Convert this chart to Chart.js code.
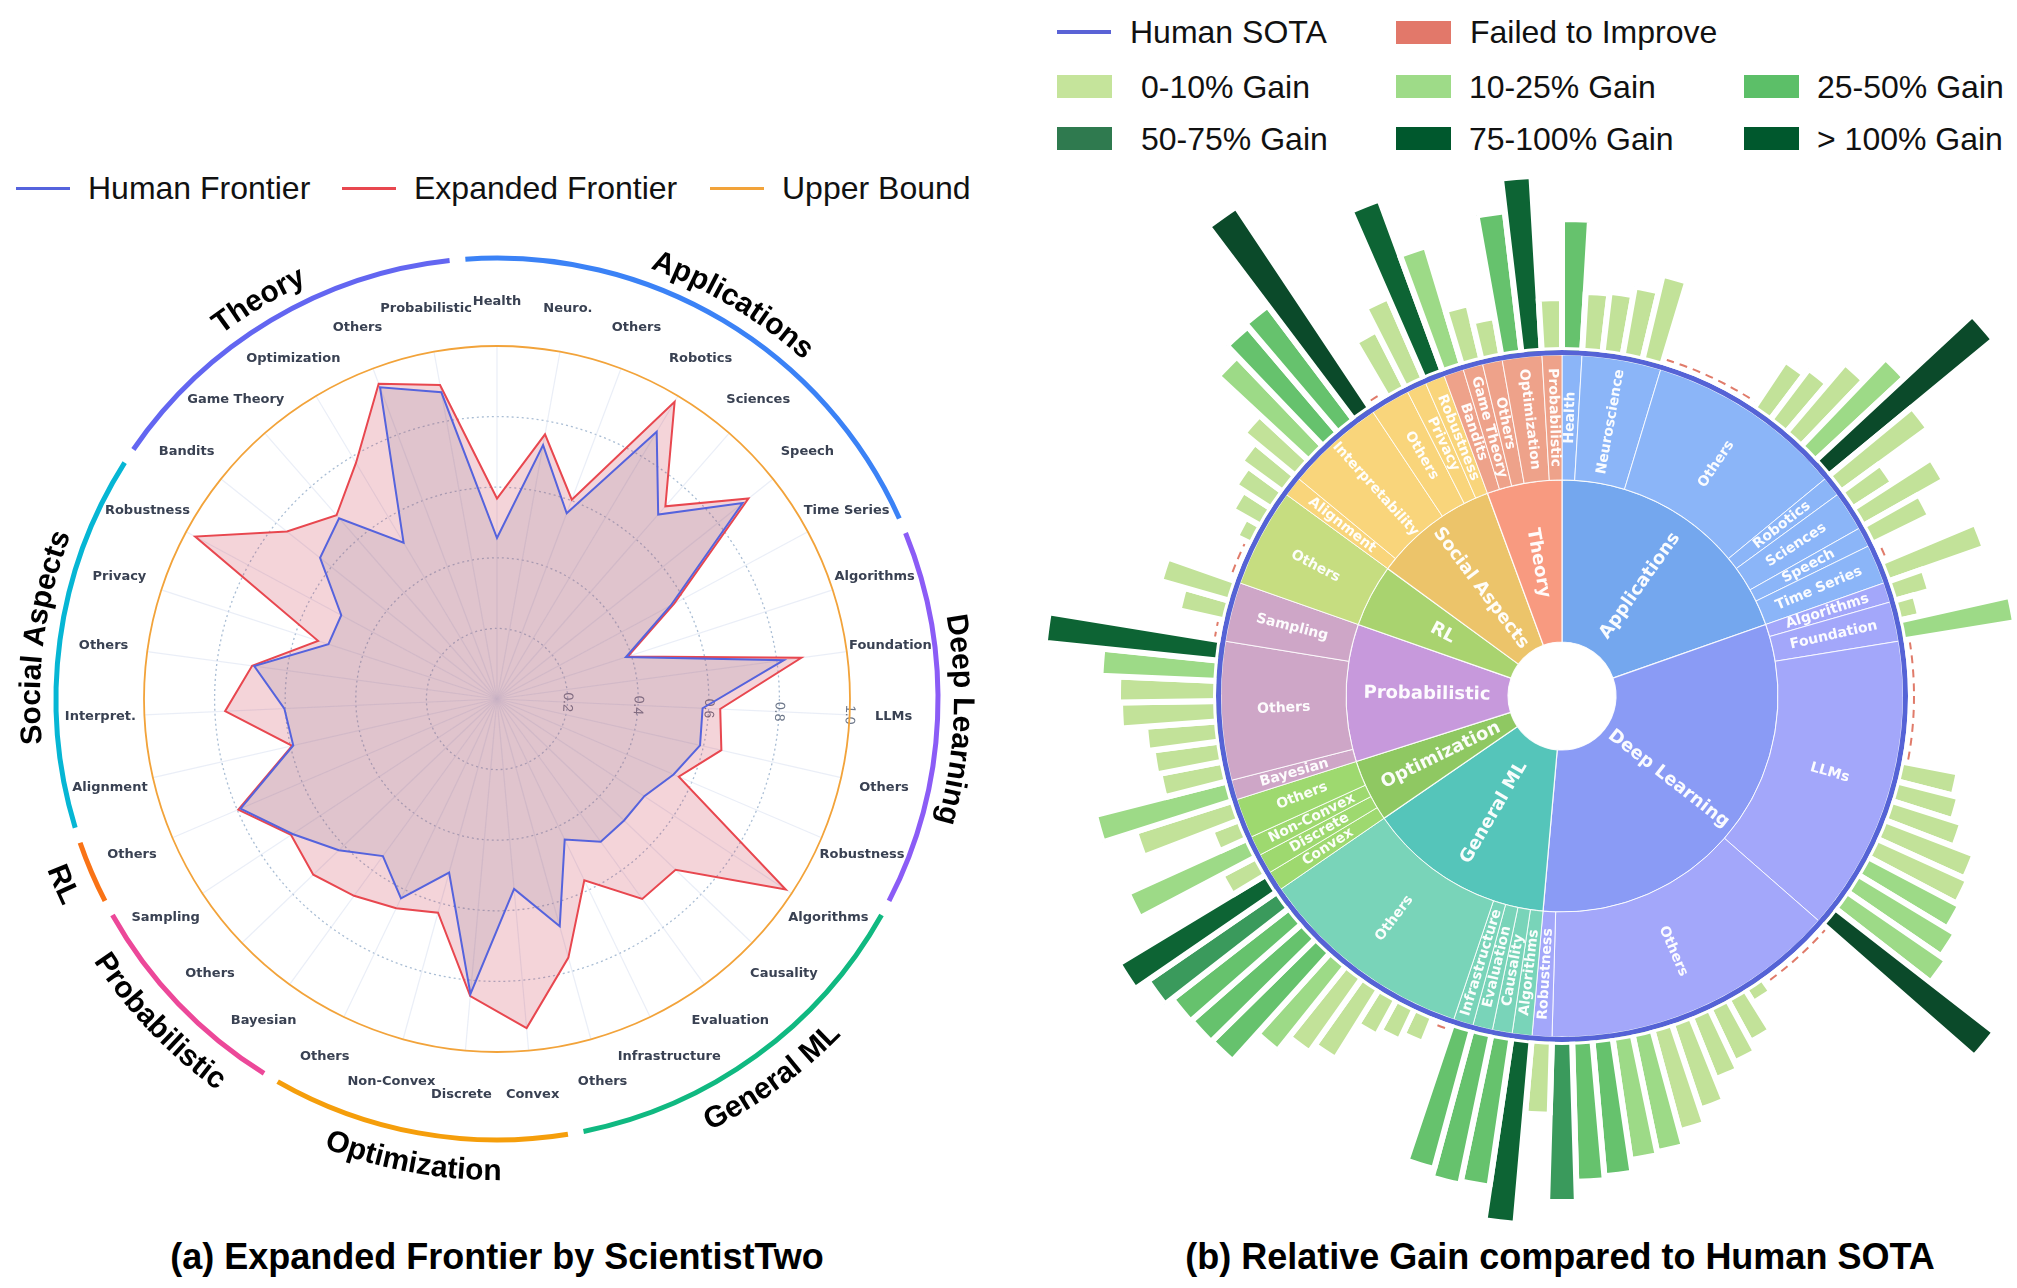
<!DOCTYPE html>
<html>
<head>
<meta charset="utf-8">
<script src="https://cdn.jsdelivr.net/npm/chart.js@4.4.1/dist/chart.umd.min.js"></script>
<style>
  html, body { margin: 0; padding: 0; background: #fff; }
  body { width: 2017px; height: 1288px; position: relative; overflow: hidden; font-family: "Liberation Sans", Arial, sans-serif; }
  canvas { position: absolute; }
  .leg { position: absolute; font-size: 32px; line-height: 36px; color: #111; white-space: nowrap; }
  .ln { position: absolute; height: 3px; width: 54px; }
  .sw { position: absolute; height: 23px; width: 55px; }
  .title { position: absolute; font-weight: bold; font-size: 36px; line-height: 40px; white-space: nowrap; transform: translateX(-50%); color: #000; }
</style>
</head>
<body>

<!-- left legend -->
<div class="ln" style="left:16px;top:187px;background:#5563dd"></div>
<div class="leg" style="left:88px;top:170px">Human Frontier</div>
<div class="ln" style="left:342px;top:187px;background:#e8474f"></div>
<div class="leg" style="left:414px;top:170px">Expanded Frontier</div>
<div class="ln" style="left:710px;top:187px;background:#f2a33a"></div>
<div class="leg" style="left:782px;top:170px">Upper Bound</div>

<!-- right legend -->
<div class="ln" style="left:1057px;top:30px;height:4px;background:#5a63d6"></div>
<div class="leg" style="left:1130px;top:14px">Human SOTA</div>
<div class="sw" style="left:1396px;top:21px;background:#e2786a"></div>
<div class="leg" style="left:1470px;top:14px">Failed to Improve</div>
<div id="binLegend"></div>

<canvas id="ring" width="1000" height="1000" style="left:-3px;top:199px;z-index:1"></canvas>
<canvas id="radar" width="1001" height="1001" style="left:-3px;top:199px;z-index:2"></canvas>
<canvas id="bars" width="1200" height="1200" style="left:962px;top:96px;z-index:1"></canvas>
<canvas id="sun" width="720" height="720" style="left:1202px;top:336px;z-index:2"></canvas>

<div class="title" style="left:497px;top:1237px">(a) Expanded Frontier by ScientistTwo</div>
<div class="title" style="left:1560px;top:1237px">(b) Relative Gain compared to Human SOTA</div>

<script>
// ---------- left panel: frontier radar ----------
const radarLabels = ['Health', 'Neuro.', 'Others', 'Robotics', 'Sciences', 'Speech', 'Time Series',
  'Algorithms', 'Foundation', 'LLMs', 'Others', 'Robustness',
  'Algorithms', 'Causality', 'Evaluation', 'Infrastructure', 'Others',
  'Convex', 'Discrete', 'Non-Convex', 'Others',
  'Bayesian', 'Others', 'Sampling',
  'Others',
  'Alignment', 'Interpret.', 'Others', 'Privacy', 'Robustness',
  'Bandits', 'Game Theory', 'Optimization', 'Others', 'Probabilistic'];

const humanFrontier = [0.456, 0.731, 0.562, 0.882, 0.694, 0.890, 0.559, 0.384, 0.820, 0.583,
  0.590, 0.544, 0.500, 0.498, 0.500, 0.442, 0.668, 0.540, 0.839, 0.510,
  0.627, 0.550, 0.620, 0.694, 0.790, 0.592, 0.603, 0.694, 0.502, 0.501,
  0.641, 0.680, 0.516, 0.943, 0.883];

const expandedFrontier = [0.568, 0.762, 0.603, 0.981, 0.725, 0.911, 0.570, 0.390, 0.870, 0.633,
  0.652, 0.560, 0.980, 0.700, 0.700, 0.570, 0.760, 0.936, 0.845, 0.628,
  0.658, 0.689, 0.720, 0.699, 0.797, 0.595, 0.771, 0.700, 0.533, 0.971,
  0.761, 0.691, 0.779, 0.954, 0.904];

const upperBound = [1, 1, 1, 1, 1, 1, 1, 1, 1, 1, 1, 1, 1, 1, 1, 1, 1, 1, 1, 1,
  1, 1, 1, 1, 1, 1, 1, 1, 1, 1, 1, 1, 1, 1, 1];

const categories = ['Applications', 'Deep Learning', 'General ML', 'Optimization',
  'Probabilistic', 'RL', 'Social Aspects', 'Theory'];
const labelsPerCategory = [7, 5, 5, 4, 3, 1, 5, 5];
const categoryColors = ['#3b82f6', '#8b5cf6', '#10b981', '#f59e0b', '#ec4899', '#f97316', '#06b6d4', '#6366f1'];

// ---------- right panel: sunburst + gain bars ----------
const subNames = ['Health', 'Neuroscience', 'Others', 'Robotics', 'Sciences', 'Speech', 'Time Series',
  'Algorithms', 'Foundation', 'LLMs', 'Others', 'Robustness',
  'Algorithms', 'Causality', 'Evaluation', 'Infrastructure', 'Others',
  'Convex', 'Discrete', 'Non-Convex', 'Others',
  'Bayesian', 'Others', 'Sampling',
  'Others',
  'Alignment', 'Interpretability', 'Others', 'Privacy', 'Robustness',
  'Bandits', 'Game Theory', 'Others', 'Optimization', 'Probabilistic'];
const subTasks = [1, 4, 10, 1, 2, 1, 2,  1, 2, 15, 15, 1,  1, 1, 1, 1, 11,  1, 1, 1, 2,
  1, 7, 3,  5,  1, 5, 2, 1, 1,  1, 1, 1, 2, 1];
const catFill = ['#74a7ee', '#8a9bf5', '#55c5ba', '#8fc862', '#c799dc', '#a9d36f', '#ecc46a', '#f89a80'];
const subFill = ['#8bb5f8', '#a3a7fa', '#79d4b9', '#9ed96f', '#cea6c7', '#c6dd80', '#f9d57b', '#eea28a'];

// one bar per task, clockwise from 12 o'clock (0 = no bar)
const barLength = [125, 53, 55, 64, 81, 0, 0, 0, 0, 0,
  51, 58, 85, 116, 208, 102, 42, 87, 58, 0,
  96, 31, 15, 107, 0, 0, 0, 0, 0, 0,
  52, 58, 68, 90, 94, 98, 108, 115, 196, 0,
  0, 0, 0, 10, 42, 53, 61, 84, 99, 114,
  117, 130, 134, 154, 67, 178, 144, 147, 138, 0,
  22, 29, 35, 76, 85, 103, 140, 141, 142, 151,
  166, 33, 125, 24, 96, 130, 58, 61, 66, 90,
  92, 110, 168, 0, 41, 66, 0, 0, 11, 27,
  37, 46, 61, 118, 133, 137, 236, 0, 58, 83,
  177, 118, 51, 33, 136, 169, 46];
const gainBin = [2, 0, 0, 0, 0, null, null, null, null, null,
  0, 0, 0, 1, 5, 0, 0, 0, 0, null,
  0, 0, 0, 1, null, null, null, null, null, null,
  0, 0, 0, 0, 0, 1, 1, 1, 5, null,
  null, null, null, 0, 0, 0, 0, 0, 0, 1,
  1, 2, 2, 3, 0, 4, 2, 2, 2, null,
  0, 0, 0, 0, 0, 1, 2, 2, 2, 3,
  4, 0, 1, 0, 0, 1, 0, 0, 0, 0,
  0, 1, 4, null, 0, 0, null, null, 0, 0,
  0, 0, 0, 1, 2, 2, 5, null, 0, 0,
  4, 1, 0, 0, 2, 4, 0];
const binNames = ['0-10% Gain', '10-25% Gain', '25-50% Gain', '50-75% Gain', '75-100% Gain', '> 100% Gain'];
const binColors = ['#c5e49b', '#9edb88', '#5cbf68', '#2f7a4f', '#00582d', '#00582d'];
const barColors = ['#c2e299', '#9dda87', '#66c26d', '#3a9a5c', '#0d6434', '#0b4a2a'];

Chart.defaults.font.family = '"DejaVu Sans", sans-serif';

// gain legend, three columns
const legendBox = document.getElementById('binLegend');
const colX = [1057, 1396, 1744];
binNames.forEach((name, i) => {
  const row = Math.floor(i / 3) + 1;
  const col = i % 3;
  const y = row === 1 ? 87 : 139;
  const sw = document.createElement('div');
  sw.className = 'sw';
  sw.style.left = colX[col] + 'px';
  sw.style.top = (y - 12) + 'px';
  sw.style.background = binColors[i];
  legendBox.appendChild(sw);
  const tx = document.createElement('div');
  tx.className = 'leg';
  tx.style.left = (col === 0 ? colX[col] + 84 : colX[col] + 73) + 'px';
  tx.style.top = (y - 18) + 'px';
  tx.textContent = name;
  legendBox.appendChild(tx);
});

// ---------- radar ----------
const STEP = 360 / radarLabels.length;
const rot = arr => arr.slice(9).concat(arr.slice(0, 9)); // LLMs sits on the tick axis

const pointLabelText = {
  id: 'pointLabelText',
  afterDraw(chart) {
    const scale = chart.scales.r;
    const ctx = chart.ctx;
    ctx.save();
    ctx.font = 'bold 13px "DejaVu Sans", sans-serif';
    ctx.fillStyle = '#394152';
    ctx.textAlign = 'center';
    ctx.textBaseline = 'middle';
    chart.data.labels.forEach((lab, i) => {
      const p = scale.getPointPosition(i, scale.drawingArea + 44);
      ctx.fillText(lab, p.x, p.y);
    });
    ctx.restore();
  }
};

new Chart(document.getElementById('radar'), {
  type: 'radar',
  data: {
    labels: rot(radarLabels),
    datasets: [
      { label: 'Human Frontier', data: rot(humanFrontier), borderColor: '#5563dd',
        backgroundColor: 'rgba(139,132,157,0.2)', borderWidth: 2, fill: true, pointRadius: 0 },
      { label: 'Expanded Frontier', data: rot(expandedFrontier), borderColor: '#e8474f',
        backgroundColor: 'rgba(200,40,65,0.2)', borderWidth: 2, fill: true, pointRadius: 0 },
      { label: 'Upper Bound', data: rot(upperBound), borderColor: '#f2a33a',
        borderWidth: 1.8, fill: false, pointRadius: 0, tension: 0.335 }
    ]
  },
  options: {
    responsive: false,
    animation: false,
    layout: { padding: 140 },
    elements: { line: { tension: 0 } },
    plugins: { legend: { display: false }, tooltip: { enabled: false } },
    scales: {
      r: {
        min: 0, max: 1,
        startAngle: 9 * STEP,
        z: 1,
        ticks: {
          stepSize: 0.2, color: '#6b7588', showLabelBackdrop: false, backdropPadding: 0,
          font: { size: 14, family: '"Liberation Sans", Arial, sans-serif' },
          callback: v => v.toFixed(1)
        },
        grid: {
          circular: true, lineWidth: 1.3,
          color: c => (c.tick && c.tick.value > 0.99) ? 'rgba(0,0,0,0)' : '#a9bdd4'
        },
        border: { dash: [2, 3] },
        angleLines: { color: 'rgba(220,226,242,0.6)', lineWidth: 1.2 },
        pointLabels: { display: false }
      }
    }
  },
  plugins: [pointLabelText]
});

// ---------- category ring with curved names ----------
function curvedText(ctx, text, cx, cy, mid, radius, clockwise) {
  const chars = [...text];
  const widths = chars.map(ch => ctx.measureText(ch).width);
  const total = widths.reduce((a, b) => a + b, 0);
  let run = -total / 2;
  chars.forEach((ch, i) => {
    const s = (run + widths[i] / 2) / radius;
    const a = clockwise ? mid + s : mid - s;
    ctx.save();
    ctx.translate(cx, cy);
    ctx.rotate(a);
    ctx.translate(0, -radius);
    if (!clockwise) ctx.rotate(Math.PI);
    ctx.fillText(ch, 0, 0);
    ctx.restore();
    run += widths[i];
  });
}

const categoryText = {
  id: 'categoryText',
  afterDraw(chart) {
    const ctx = chart.ctx;
    const meta = chart.getDatasetMeta(0);
    ctx.save();
    ctx.font = 'bold 30px "Liberation Sans", Arial, sans-serif';
    ctx.fillStyle = '#000';
    ctx.textAlign = 'center';
    ctx.textBaseline = 'alphabetic';
    categories.forEach((name, i) => {
      const arc = meta.data[2 * i];
      const mid = ((arc.startAngle + arc.endAngle) / 2 + Math.PI / 2 + 2 * Math.PI) % (2 * Math.PI);
      const deg = mid * 180 / Math.PI;
      const cw = deg < 110 || deg > 260;
      curvedText(ctx, name, arc.x, arc.y, mid, cw ? 457 : 481, cw);
    });
    ctx.restore();
  }
};

const ringGap = 0.2; // gap between arcs, in label steps
const ringData = [];
const ringColors = [];
labelsPerCategory.forEach((n, i) => {
  ringData.push(n - ringGap, ringGap);
  ringColors.push(categoryColors[i], 'rgba(0,0,0,0)');
});

new Chart(document.getElementById('ring'), {
  type: 'doughnut',
  data: { datasets: [{ data: ringData, backgroundColor: ringColors, borderWidth: 0 }] },
  options: {
    responsive: false,
    animation: false,
    radius: 443.5,
    cutout: '98.87%',
    rotation: -STEP / 2 + ringGap * STEP / 2,
    plugins: { legend: { display: false }, tooltip: { enabled: false } }
  },
  plugins: [categoryText]
});

// ---------- gain bars (behind the sunburst) ----------
new Chart(document.getElementById('bars'), {
  type: 'polarArea',
  data: {
    labels: barLength.map((_, i) => 'Task ' + (i + 1)),
    datasets: [{
      data: barLength,
      backgroundColor: c => gainBin[c.dataIndex] === null ? 'rgba(0,0,0,0)' : barColors[gainBin[c.dataIndex]],
      borderColor: '#fff',
      borderWidth: c => barLength[c.dataIndex] > 0 ? 6 : 0
    }]
  },
  options: {
    responsive: false,
    animation: false,
    plugins: { legend: { display: false }, tooltip: { enabled: false } },
    scales: {
      r: {
        min: -352, max: 248,
        startAngle: 0,
        ticks: { display: false },
        angleLines: { display: false },
        pointLabels: { display: false },
        grid: { circular: true, color: '#e07b6a', lineWidth: 2 },
        border: { dash: [8, 6] },
        afterBuildTicks: s => { s.ticks = [{ value: 0 }]; }
      }
    }
  }
});

// ---------- sunburst ----------
const catTasks = [];
let pos = 0;
labelsPerCategory.forEach(n => {
  catTasks.push(subTasks.slice(pos, pos + n).reduce((a, b) => a + b, 0));
  pos += n;
});
const subColors = [];
labelsPerCategory.forEach((n, i) => { for (let k = 0; k < n; k++) subColors.push(subFill[i]); });

const sunLabels = {
  id: 'sunLabels',
  afterDatasetsDraw(chart) {
    const ctx = chart.ctx;
    [[2, subNames, 14], [3, categories, 18]].forEach(([di, names, size]) => {
      chart.getDatasetMeta(di).data.forEach((arc, i) => {
        const a = (arc.startAngle + arc.endAngle) / 2;
        const r = (arc.innerRadius + arc.outerRadius) / 2;
        ctx.save();
        ctx.translate(arc.x + r * Math.cos(a), arc.y + r * Math.sin(a));
        ctx.rotate(Math.cos(a) < 0 ? a + Math.PI : a);
        ctx.font = 'bold ' + size + 'px "DejaVu Sans", sans-serif';
        ctx.fillStyle = 'rgba(255,255,255,0.96)';
        ctx.textAlign = 'center';
        ctx.textBaseline = 'middle';
        ctx.fillText(names[i], 0, 0);
        ctx.restore();
      });
    });
  }
};

new Chart(document.getElementById('sun'), {
  type: 'doughnut',
  data: {
    datasets: [
      { data: [1], backgroundColor: ['#ffffff'], borderWidth: 0, weight: 3 },
      { data: [1], backgroundColor: ['#5563d6'], borderWidth: 0, weight: 5 },
      { data: subTasks, backgroundColor: subColors, borderColor: 'rgba(255,255,255,0.85)', borderWidth: 1, weight: 125 },
      { data: catTasks, backgroundColor: catFill, borderColor: 'rgba(255,255,255,0.9)', borderWidth: 1.2, weight: 162 },
      { data: [1], backgroundColor: ['#ffffff'], borderWidth: 0, weight: 54 }
    ]
  },
  options: {
    responsive: false,
    animation: false,
    radius: 349,
    cutout: '0%',
    plugins: { legend: { display: false }, tooltip: { enabled: false } }
  },
  plugins: [sunLabels]
});
</script>
</body>
</html>
